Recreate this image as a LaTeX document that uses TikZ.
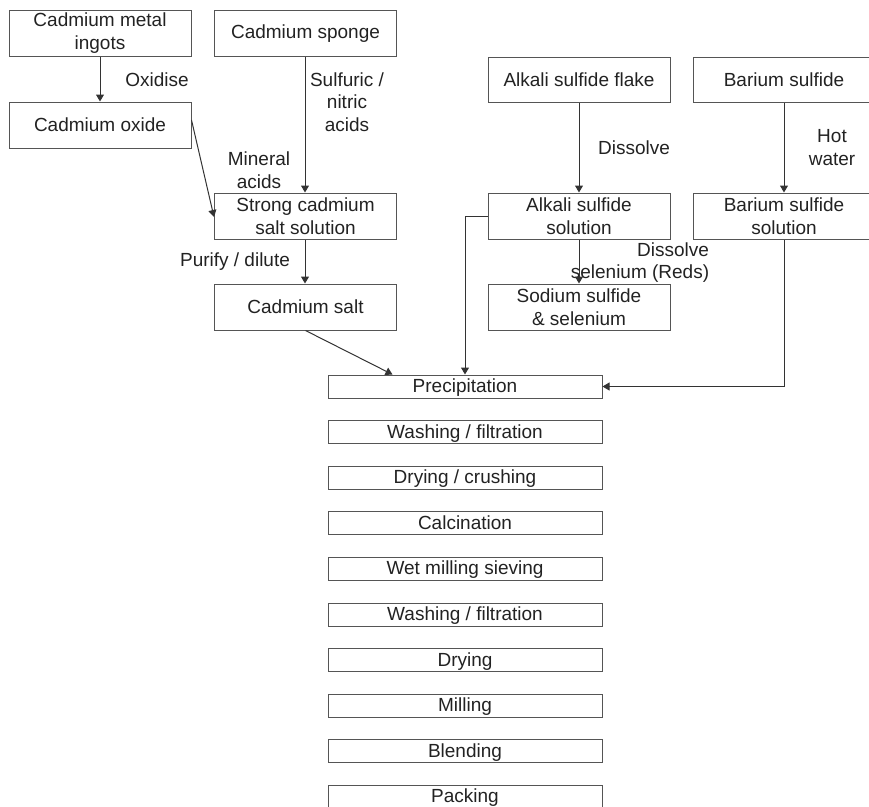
\documentclass[tikz,border=0pt]{standalone}
\usepackage{fontspec}
\setmainfont{Liberation Sans}
\usetikzlibrary{arrows.meta}
\definecolor{inkgray}{HTML}{222222}
\definecolor{linegray}{HTML}{333333}
\definecolor{boxgray}{HTML}{555555}
\begin{document}
\begin{tikzpicture}[x=1pt,y=-1pt,
  font=\fontsize{19}{23}\selectfont, text=inkgray,
  box/.style={draw=boxgray, line width=1pt, align=center, inner sep=0pt,
    minimum width=182pt, minimum height=46pt},
  stepbox/.style={draw=boxgray, line width=1pt, inner sep=0pt,
    text height=15pt, text depth=3pt,
    minimum width=274pt, minimum height=23pt},
  lbl/.style={align=center, inner sep=0pt},
  flow/.style={draw=linegray, line width=1pt, -{Triangle[length=7pt,width=8pt]}}]

\useasboundingbox (0,0) rectangle (869,806);

\def\colA{100}
\def\colB{305.5}
\def\colC{579}
\def\colD{784}
\def\stepX{465}
\def\stepY{386.5}
\def\stepGap{45.6}

% source boxes
\node[box] (ingots) at (\colA,33) {Cadmium metal\\ingots};
\node[box] (sponge) at (\colB,33.5) {Cadmium sponge};
\node[box] (oxide) at (\colA,125) {Cadmium oxide};
\node[box] (strong) at (\colB,216) {Strong cadmium\\salt solution};
\node[box] (salt) at (\colB,307) {Cadmium salt};
\node[box, minimum height=45pt] (flake) at (\colC,79.5) {Alkali sulfide flake};
\node[box, minimum height=45pt] (barium) at (\colD,79.5) {Barium sulfide};
\node[box] (alksol) at (\colC,216) {Alkali sulfide\\solution};
\node[box] (basol) at (\colD,216) {Barium sulfide\\solution};
\node[box] (sodium) at (\colC,307) {Sodium sulfide\\\& selenium};

% process steps
\foreach \name/\txt [count=\i from 0] in {p1/Precipitation, p2/{Washing / filtration},
    p3/{Drying / crushing}, p4/Calcination, p5/Wet milling sieving,
    p6/{Washing / filtration}, p7/Drying, p8/Milling, p9/Blending, p10/Packing}
  \node[stepbox] (\name) at (\stepX,\stepY+\i*\stepGap) {\txt};

% labels
\node[lbl] (oxidise) at (157,80) {Oxidise};
\node[lbl, font=\fontsize{19}{22.5}\selectfont] (acidsA) at (347,102) {Sulfuric /\\nitric\\acids};
\node[lbl] (acidsB) at (259,170) {Mineral\\acids};
\node[lbl] (purify) at (235,262) {Purify / dilute};
\node[lbl] (dissolveA) at (634,148) {Dissolve};
\node[lbl] (hotwater) at (832,148) {Hot\\water};
\node[lbl] (dissolveB) at (673,250) {Dissolve};
\node[lbl] (selenium) at (640,274) {selenium (Reds)};

% connectors
\draw[flow] (ingots) -- (oxide);
\draw[flow] ([xshift=-0.5pt]sponge.south) -- ([xshift=-0.5pt]strong.north);
\draw[flow] ([yshift=5pt]oxide.east) -- ([yshift=-1pt]strong.west);
\draw[flow] ([xshift=-0.5pt]strong.south) -- ([xshift=-0.5pt]salt.north);
\draw[flow] (salt.south) -- ([xshift=65pt]p1.north west);
\draw[flow] (flake) -- (alksol);
\draw[flow] (barium) -- (basol);
\draw[flow] (alksol) -- (sodium);
\draw[flow] (alksol.west) -| (p1.north);
\draw[flow] (basol.south) |- (p1.east);

\end{tikzpicture}
\end{document}
